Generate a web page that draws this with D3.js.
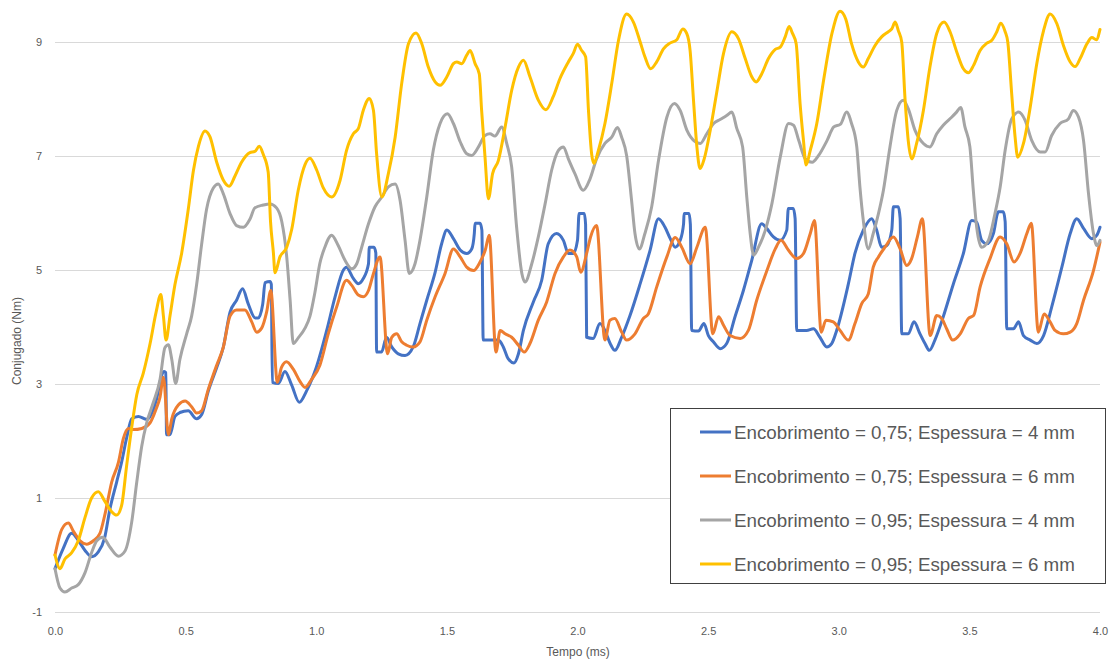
<!DOCTYPE html>
<html>
<head>
<meta charset="utf-8">
<script src="https://cdn.jsdelivr.net/npm/d3@7"></script>
<style>
  body { margin: 0; background: #fff; }
  svg { font-family: "Liberation Sans", Arial, sans-serif; }
</style>
</head>
<body>
<svg id="chart" width="1113" height="661"></svg>
<script>
// tick labels
const xTicks = [0, 0.5, 1.0, 1.5, 2.0, 2.5, 3.0, 3.5, 4.0];
const yTicks = [-1, 1, 3, 5, 7, 9];

const seriesNames = [
    "Encobrimento = 0,75; Espessura = 4 mm",
    "Encobrimento = 0,75; Espessura = 6 mm",
    "Encobrimento = 0,95; Espessura = 4 mm",
    "Encobrimento = 0,95; Espessura = 6 mm"
];
const seriesColors = ["#4472C4", "#ED7D31", "#A5A5A5", "#FFC000"];

// [tempo (ms), conjugado (Nm)]
const blue = [[0,-0.24],[0.03,0.1],[0.064,0.38],[0.09,0.25],[0.115,0.08],[0.14,-0.03],[0.165,0.05],[0.19,0.3],[0.21,0.8],[0.236,1.28],[0.255,1.63],[0.274,2.05],[0.294,2.39],[0.319,2.43],[0.351,2.38],[0.389,2.74],[0.408,3.15],[0.418,3.22],[0.424,3.2],[0.427,2.11],[0.44,2.11],[0.459,2.43],[0.478,2.5],[0.51,2.53],[0.542,2.39],[0.561,2.46],[0.587,2.88],[0.619,3.29],[0.644,3.64],[0.67,4.26],[0.695,4.47],[0.718,4.67],[0.74,4.4],[0.766,4.16],[0.778,4.16],[0.795,4.4],[0.804,4.78],[0.823,4.8],[0.828,4.75],[0.832,3.03],[0.855,3.01],[0.88,3.22],[0.906,2.98],[0.935,2.68],[0.963,2.88],[1.0,3.29],[1.04,3.94],[1.072,4.53],[1.104,5.0],[1.115,5.05],[1.142,4.85],[1.161,4.76],[1.18,4.85],[1.2,5.11],[1.203,5.4],[1.221,5.4],[1.228,5.3],[1.231,3.56],[1.25,3.56],[1.269,3.82],[1.289,3.65],[1.314,3.53],[1.34,3.5],[1.371,3.65],[1.397,4.06],[1.423,4.47],[1.455,4.96],[1.48,5.46],[1.5,5.7],[1.525,5.55],[1.551,5.35],[1.576,5.29],[1.595,5.37],[1.605,5.64],[1.608,5.82],[1.627,5.82],[1.634,5.7],[1.639,3.77],[1.678,3.77],[1.697,3.77],[1.716,3.65],[1.735,3.44],[1.757,3.37],[1.774,3.53],[1.793,3.94],[1.831,4.44],[1.863,4.82],[1.888,5.46],[1.92,5.64],[1.946,5.52],[1.965,5.29],[1.984,5.29],[2.0,5.52],[2.006,5.99],[2.026,5.99],[2.031,5.8],[2.035,3.82],[2.06,3.8],[2.086,4.06],[2.105,3.94],[2.125,3.71],[2.143,3.59],[2.169,3.82],[2.201,4.2],[2.24,4.76],[2.278,5.35],[2.31,5.9],[2.335,5.75],[2.355,5.55],[2.374,5.4],[2.393,5.52],[2.406,5.81],[2.408,5.99],[2.427,5.99],[2.432,5.8],[2.437,3.94],[2.463,3.93],[2.484,4.06],[2.501,3.85],[2.52,3.74],[2.546,3.62],[2.571,3.71],[2.603,4.18],[2.635,4.64],[2.667,5.17],[2.705,5.81],[2.724,5.73],[2.75,5.58],[2.775,5.52],[2.801,5.7],[2.807,6.08],[2.826,6.08],[2.833,5.9],[2.839,3.94],[2.877,3.94],[2.903,3.97],[2.928,3.82],[2.954,3.65],[2.973,3.71],[2.992,3.94],[3.037,4.76],[3.062,5.29],[3.094,5.7],[3.126,5.9],[3.145,5.7],[3.164,5.4],[3.184,5.43],[3.203,5.7],[3.209,6.11],[3.228,6.11],[3.235,5.9],[3.241,3.88],[3.266,3.88],[3.288,4.09],[3.311,3.88],[3.33,3.71],[3.347,3.59],[3.368,3.77],[3.4,4.18],[3.439,4.76],[3.477,5.29],[3.509,5.87],[3.528,5.84],[3.547,5.52],[3.567,5.46],[3.592,5.64],[3.611,6.02],[3.63,6.02],[3.637,5.85],[3.643,3.97],[3.669,3.97],[3.688,4.09],[3.707,3.85],[3.733,3.77],[3.758,3.71],[3.784,3.85],[3.815,4.35],[3.854,5.05],[3.886,5.64],[3.911,5.9],[3.937,5.73],[3.969,5.55],[3.988,5.61],[4.0,5.75]];

const orange = [[0,0.0],[0.026,0.45],[0.051,0.56],[0.07,0.42],[0.096,0.25],[0.121,0.19],[0.147,0.25],[0.172,0.38],[0.192,0.73],[0.217,1.28],[0.243,1.63],[0.262,2.05],[0.281,2.22],[0.3,2.2],[0.332,2.22],[0.364,2.32],[0.387,2.56],[0.402,2.77],[0.415,3.12],[0.434,2.11],[0.447,2.39],[0.472,2.63],[0.498,2.7],[0.523,2.6],[0.542,2.49],[0.561,2.53],[0.587,2.91],[0.619,3.33],[0.644,3.64],[0.67,4.19],[0.695,4.3],[0.727,4.3],[0.753,4.09],[0.772,3.91],[0.791,3.98],[0.81,4.26],[0.826,4.64],[0.851,3.03],[0.867,3.29],[0.886,3.39],[0.912,3.26],[0.937,3.05],[0.957,2.94],[0.982,3.08],[1.014,3.33],[1.046,3.88],[1.078,4.35],[1.116,4.82],[1.136,4.73],[1.161,4.56],[1.18,4.53],[1.2,4.64],[1.219,4.94],[1.244,5.23],[1.273,3.53],[1.289,3.82],[1.308,3.88],[1.327,3.74],[1.346,3.68],[1.371,3.65],[1.397,3.74],[1.423,4.12],[1.455,4.53],[1.493,4.94],[1.525,5.37],[1.551,5.23],[1.576,5.05],[1.602,4.99],[1.627,5.14],[1.647,5.35],[1.662,5.61],[1.688,3.56],[1.704,3.94],[1.723,3.88],[1.748,3.82],[1.774,3.68],[1.796,3.56],[1.818,3.71],[1.85,4.12],[1.882,4.44],[1.914,4.94],[1.946,5.23],[1.971,5.35],[1.997,5.23],[2.012,4.96],[2.035,5.29],[2.05,5.58],[2.073,5.78],[2.105,3.77],[2.124,4.12],[2.143,4.15],[2.169,3.91],[2.188,3.77],[2.22,3.88],[2.252,4.15],[2.271,4.23],[2.303,4.7],[2.342,5.23],[2.374,5.57],[2.399,5.4],[2.431,5.11],[2.457,5.4],[2.489,5.75],[2.518,3.88],[2.54,4.18],[2.559,4.03],[2.584,3.85],[2.623,3.8],[2.654,3.94],[2.686,4.47],[2.725,4.99],[2.757,5.37],[2.779,5.52],[2.807,5.35],[2.839,5.2],[2.865,5.29],[2.891,5.64],[2.907,5.87],[2.933,3.91],[2.951,4.12],[2.979,4.09],[3.005,3.94],[3.037,3.77],[3.062,4.06],[3.088,4.41],[3.113,4.58],[3.132,5.05],[3.152,5.23],[3.177,5.4],[3.209,5.58],[3.235,5.37],[3.26,5.08],[3.279,5.2],[3.301,5.58],[3.32,5.9],[3.35,3.85],[3.375,4.2],[3.394,4.15],[3.413,3.97],[3.436,3.77],[3.465,3.88],[3.496,4.15],[3.516,4.2],[3.541,4.7],[3.579,5.2],[3.618,5.58],[3.643,5.46],[3.671,5.14],[3.694,5.29],[3.72,5.64],[3.737,5.82],[3.764,3.91],[3.786,4.23],[3.809,4.09],[3.828,3.94],[3.86,3.88],[3.886,3.91],[3.911,4.06],[3.937,4.47],[3.975,4.99],[4.0,5.49]];

const gray = [[0,-0.24],[0.019,-0.58],[0.038,-0.65],[0.064,-0.58],[0.089,-0.52],[0.115,-0.31],[0.14,0.04],[0.16,0.25],[0.183,0.31],[0.21,0.14],[0.243,-0.02],[0.268,0.07],[0.294,0.59],[0.313,1.28],[0.332,1.91],[0.351,2.32],[0.376,2.67],[0.402,3.08],[0.421,3.64],[0.434,3.69],[0.447,3.43],[0.462,3.01],[0.478,3.43],[0.504,3.88],[0.523,4.19],[0.542,4.74],[0.561,5.44],[0.58,6.06],[0.606,6.44],[0.625,6.51],[0.644,6.34],[0.67,5.99],[0.695,5.78],[0.721,5.75],[0.746,5.89],[0.765,6.09],[0.797,6.14],[0.823,6.16],[0.848,6.09],[0.868,5.85],[0.887,5.23],[0.9,4.47],[0.912,3.71],[0.931,3.81],[0.957,3.98],[0.976,4.19],[0.995,4.61],[1.014,5.12],[1.033,5.4],[1.059,5.61],[1.084,5.43],[1.11,5.17],[1.136,5.02],[1.155,5.11],[1.174,5.4],[1.2,5.81],[1.225,6.11],[1.251,6.28],[1.276,6.46],[1.302,6.51],[1.321,6.22],[1.34,5.52],[1.356,4.94],[1.378,5.11],[1.397,5.52],[1.423,6.28],[1.448,7.1],[1.474,7.57],[1.502,7.74],[1.525,7.57],[1.551,7.25],[1.576,7.04],[1.595,7.01],[1.621,7.16],[1.646,7.36],[1.665,7.39],[1.684,7.35],[1.71,7.51],[1.729,7.22],[1.748,6.81],[1.767,5.75],[1.787,4.94],[1.799,4.79],[1.825,5.11],[1.85,5.58],[1.876,6.16],[1.901,6.75],[1.927,7.1],[1.946,7.16],[1.965,6.95],[1.99,6.69],[2.022,6.4],[2.048,6.6],[2.073,6.95],[2.105,7.22],[2.131,7.33],[2.153,7.5],[2.169,7.33],[2.188,7.01],[2.207,6.22],[2.22,5.64],[2.237,5.37],[2.258,5.64],[2.284,6.11],[2.31,6.92],[2.342,7.68],[2.371,7.92],[2.393,7.8],[2.419,7.45],[2.451,7.25],[2.47,7.22],[2.495,7.39],[2.521,7.57],[2.546,7.64],[2.571,7.71],[2.591,7.77],[2.61,7.48],[2.632,7.16],[2.648,6.28],[2.661,5.64],[2.674,5.26],[2.693,5.4],[2.719,5.7],[2.744,6.16],[2.776,6.98],[2.808,7.57],[2.827,7.54],[2.847,7.27],[2.872,6.95],[2.898,6.89],[2.923,7.01],[2.955,7.27],[2.981,7.51],[3.007,7.56],[3.03,7.77],[3.049,7.57],[3.069,7.16],[3.081,6.46],[3.094,5.87],[3.113,5.37],[3.132,5.64],[3.152,5.99],[3.171,6.4],[3.196,7.16],[3.222,7.8],[3.247,7.98],[3.266,7.83],[3.292,7.45],[3.324,7.22],[3.349,7.16],[3.375,7.39],[3.4,7.54],[3.432,7.68],[3.451,7.77],[3.467,7.85],[3.483,7.51],[3.502,7.16],[3.515,6.4],[3.528,5.75],[3.547,5.4],[3.573,5.52],[3.598,5.99],[3.618,6.46],[3.637,7.1],[3.662,7.65],[3.688,7.77],[3.713,7.63],[3.739,7.27],[3.771,7.07],[3.79,7.07],[3.815,7.36],[3.847,7.57],[3.879,7.65],[3.898,7.8],[3.918,7.68],[3.937,7.27],[3.956,6.34],[3.975,5.64],[3.988,5.43],[4.0,5.52]];

const yellow = [[0,0.0],[0.019,-0.24],[0.038,-0.07],[0.064,0.04],[0.089,0.25],[0.115,0.66],[0.14,1.0],[0.166,1.11],[0.191,0.94],[0.217,0.76],[0.236,0.7],[0.255,0.87],[0.274,1.56],[0.294,2.25],[0.313,2.81],[0.338,3.19],[0.364,3.71],[0.387,4.26],[0.405,4.57],[0.415,4.19],[0.425,3.77],[0.44,4.19],[0.459,4.74],[0.485,5.3],[0.51,6.06],[0.53,6.75],[0.549,7.17],[0.574,7.44],[0.593,7.34],[0.619,6.89],[0.644,6.58],[0.667,6.47],[0.689,6.65],[0.714,6.89],[0.746,7.06],[0.765,7.08],[0.782,7.17],[0.797,7.03],[0.816,6.72],[0.825,5.85],[0.836,5.3],[0.842,4.95],[0.861,5.23],[0.887,5.4],[0.906,5.71],[0.931,6.4],[0.957,6.85],[0.976,6.96],[1.002,6.75],[1.027,6.44],[1.059,6.28],[1.091,6.57],[1.116,7.1],[1.142,7.39],[1.161,7.48],[1.18,7.8],[1.203,8.01],[1.219,7.8],[1.231,7.04],[1.251,6.28],[1.276,6.69],[1.302,7.33],[1.327,8.27],[1.353,8.97],[1.382,9.16],[1.404,8.97],[1.429,8.56],[1.455,8.3],[1.474,8.24],[1.5,8.39],[1.525,8.62],[1.538,8.65],[1.557,8.62],[1.576,8.77],[1.589,8.85],[1.608,8.62],[1.624,8.44],[1.633,7.8],[1.646,6.98],[1.659,6.25],[1.675,6.69],[1.697,6.92],[1.723,7.51],[1.748,8.15],[1.774,8.56],[1.793,8.68],[1.818,8.39],[1.85,7.98],[1.879,7.81],[1.907,8.04],[1.933,8.36],[1.965,8.65],[1.984,8.8],[2.0,8.96],[2.016,8.85],[2.031,8.74],[2.042,7.8],[2.054,7.04],[2.063,6.87],[2.08,7.1],[2.105,7.57],[2.131,8.27],[2.157,9.03],[2.188,9.49],[2.214,9.35],[2.24,9.0],[2.258,8.74],[2.28,8.53],[2.303,8.65],[2.329,8.88],[2.354,8.98],[2.38,9.04],[2.403,9.23],[2.418,9.15],[2.431,8.85],[2.444,7.98],[2.457,7.16],[2.469,6.78],[2.485,6.95],[2.508,7.45],[2.533,8.12],[2.559,8.8],[2.591,9.18],[2.616,9.06],[2.642,8.71],[2.667,8.39],[2.684,8.3],[2.705,8.44],[2.731,8.71],[2.757,8.87],[2.776,8.91],[2.795,9.09],[2.81,9.27],[2.823,9.15],[2.837,8.97],[2.852,7.92],[2.865,7.27],[2.875,6.84],[2.891,7.1],[2.916,7.57],[2.942,8.33],[2.974,9.15],[3.005,9.54],[3.027,9.4],[3.049,8.97],[3.075,8.65],[3.094,8.56],[3.113,8.71],[3.139,8.94],[3.164,9.09],[3.19,9.18],[3.203,9.23],[3.216,9.35],[3.228,9.2],[3.241,9.0],[3.254,7.98],[3.266,7.27],[3.279,6.95],[3.298,7.22],[3.324,7.8],[3.349,8.56],[3.375,9.15],[3.403,9.35],[3.426,9.18],[3.452,8.82],[3.477,8.53],[3.496,8.46],[3.516,8.59],[3.541,8.85],[3.567,8.98],[3.586,9.03],[3.605,9.18],[3.62,9.33],[3.637,9.18],[3.647,9.0],[3.662,8.09],[3.675,7.33],[3.685,6.98],[3.707,7.22],[3.733,7.86],[3.758,8.62],[3.784,9.2],[3.809,9.49],[3.835,9.32],[3.86,8.94],[3.886,8.65],[3.905,8.57],[3.924,8.71],[3.95,8.97],[3.969,9.08],[3.986,9.04],[4.0,9.22]];

const allSeries = [blue, orange, gray, yellow];

const svg = d3.select("#chart");

const plotLeft = 55, plotRight = 1100, plotTop = 42, plotBottom = 612;

const xScale = d3.scaleLinear()
                 .domain([0, 4])
                 .range([plotLeft, plotRight]);

const yScale = d3.scaleLinear()
                 .domain([-1, 9])
                 .range([plotBottom, plotTop]);

// horizontal gridlines + y labels
const yAxis = d3.axisLeft(yScale)
                .tickValues(yTicks)
                .tickSize(-(plotRight - plotLeft))
                .tickPadding(13)
                .tickFormat(d => String(d));

const yAxisGroup = svg.append("g")
   .attr("class", "y-axis")
   .attr("transform", "translate(" + plotLeft + ",0)")
   .call(yAxis);

yAxisGroup.select(".domain").remove();
yAxisGroup.selectAll("line").attr("stroke", "#d9d9d9").attr("stroke-width", 1);
yAxisGroup.selectAll("text")
          .attr("fill", "#595959")
          .style("font-size", "11px");

// x labels
const xAxis = d3.axisBottom(xScale)
                .tickValues(xTicks)
                .tickSize(0)
                .tickPadding(15)
                .tickFormat(d3.format(".1f"));

const xAxisGroup = svg.append("g")
   .attr("class", "x-axis")
   .attr("transform", "translate(0," + plotBottom + ")")
   .call(xAxis);

xAxisGroup.select(".domain").remove();
xAxisGroup.selectAll("text")
          .attr("fill", "#595959")
          .style("font-size", "11px");

// axis titles
svg.append("text")
   .attr("transform", "translate(21,341) rotate(-90)")
   .attr("text-anchor", "middle")
   .attr("fill", "#595959")
   .style("font-size", "12px")
   .text("Conjugado (Nm)");

svg.append("text")
   .attr("x", 578)
   .attr("y", 656)
   .attr("text-anchor", "middle")
   .attr("fill", "#595959")
   .style("font-size", "12px")
   .text("Tempo (ms)");

// the lines (monotone keeps the sharp drops from looping back)
const line = d3.line()
               .x(d => xScale(d[0]))
               .y(d => yScale(d[1]))
               .curve(d3.curveMonotoneX);

svg.append("g")
   .selectAll("path")
   .data(allSeries)
   .join("path")
   .attr("fill", "none")
   .attr("stroke", (d, i) => seriesColors[i])
   .attr("stroke-width", 3)
   .attr("stroke-linejoin", "round")
   .attr("stroke-linecap", "round")
   .attr("d", line);

// legend
const legend = svg.append("g").attr("class", "legend");

legend.append("rect")
      .attr("x", 670.5)
      .attr("y", 408.5)
      .attr("width", 435)
      .attr("height", 175)
      .attr("fill", "#fff")
      .attr("stroke", "#404040")
      .attr("stroke-width", 1);

const rows = legend.selectAll("g.row")
      .data(seriesNames)
      .join("g")
      .attr("class", "row")
      .attr("transform", (d, i) => "translate(0," + (432 + i * 44) + ")");

rows.append("line")
    .attr("x1", 700)
    .attr("x2", 731)
    .attr("stroke", (d, i) => seriesColors[i])
    .attr("stroke-width", 3);

const labels = rows.append("text")
    .attr("x", 734)
    .attr("dy", "0.35em")
    .attr("fill", "#595959")
    .style("font-size", "17px")
    .text(d => d);

// fit legend text width to the original (~341px)
const w0 = labels.node().getComputedTextLength();
labels.style("font-size", (17 * 341 / w0).toFixed(2) + "px");
</script>
</body>
</html>
